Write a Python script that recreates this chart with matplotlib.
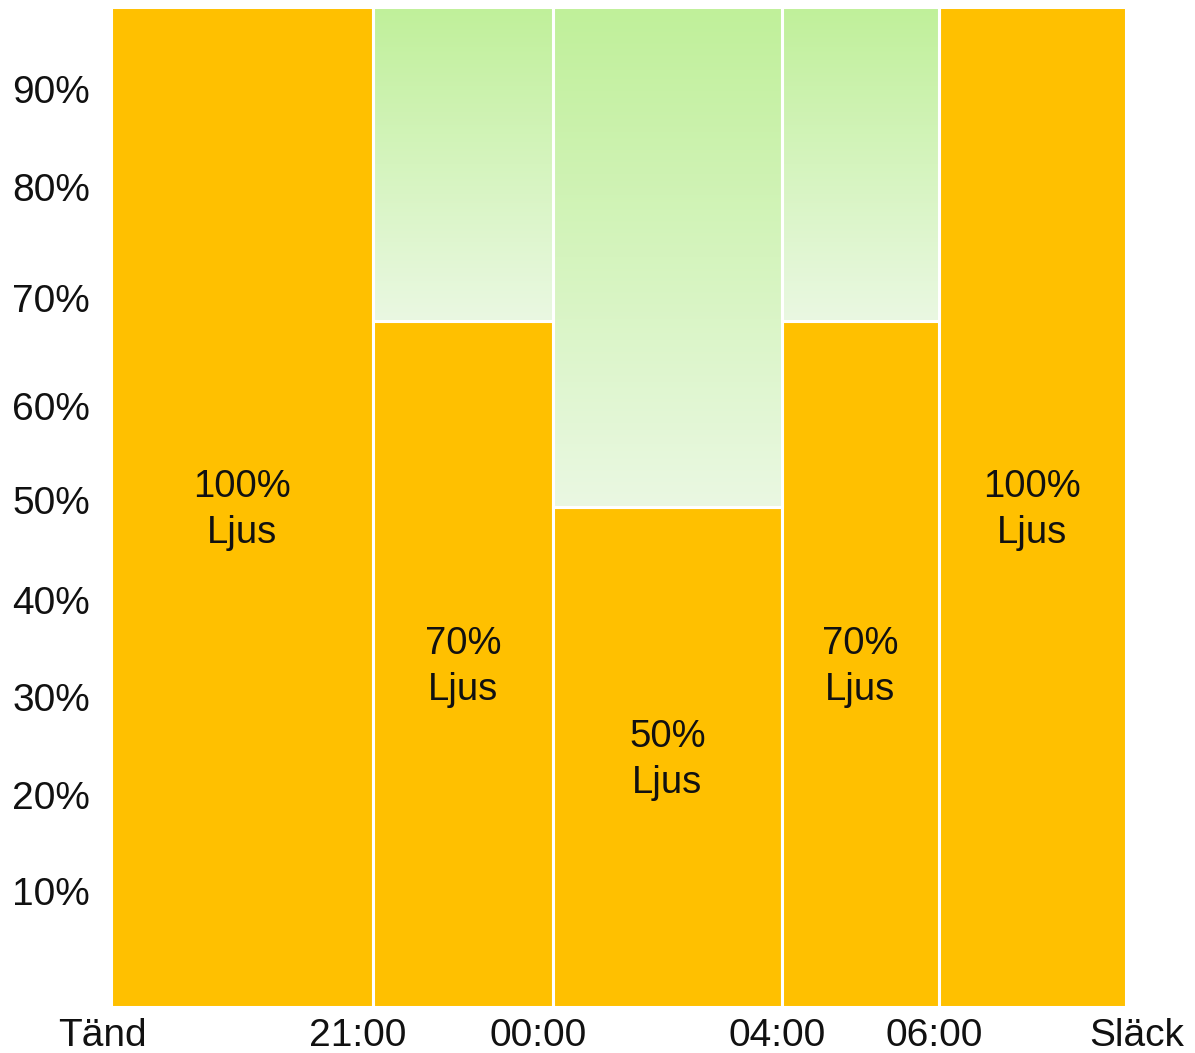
import matplotlib
matplotlib.use("Agg")
import matplotlib.pyplot as plt
import numpy as np
from matplotlib.colors import LinearSegmentedColormap
from matplotlib.patches import Rectangle
from matplotlib.transforms import blended_transform_factory, offset_copy

plt.rcParams['font.family'] = ['Liberation Sans', 'DejaVu Sans']

# ---- data ----
seg_widths = [262, 180, 229, 157, 187]          # relative duration of each period
light_levels = [100, 68.6, 50, 68.6, 100]       # bar heights (%)
bar_labels = ["100%\nLjus", "70%\nLjus", "50%\nLjus", "70%\nLjus", "100%\nLjus"]
time_labels = ["Tänd", "21:00", "00:00", "04:00", "06:00", "Släck"]
time_label_pos = [-9, 246.5, 427, 666, 823.5, 1026]
ytick_labels = ["10%", "20%", "30%", "40%", "50%", "60%", "70%", "80%", "90%"]
ytick_pos = [11.6, 21.2, 31.0, 40.7, 50.7, 60.1, 70.9, 82.0, 91.8]

ORANGE = "#FFC000"
GREEN_TOP = "#C0F09A"
GREEN_BOT = "#EAF8E2"

W, H = 1195, 1053
fig = plt.figure(figsize=(W / 100, H / 100), dpi=100)
ax = fig.add_axes([111 / W, (H - 1007) / H, (1126 - 111) / W, (1007 - 7) / H])

edges = np.concatenate([[0], np.cumsum(seg_widths)])
total = edges[-1]

cmap = LinearSegmentedColormap.from_list("g", [GREEN_BOT, GREEN_TOP])
grad = np.linspace(0, 1, 256).reshape(-1, 1)

txt_trans = offset_copy(ax.transData, fig=fig, x=0, y=-3, units='dots')

for i, (w, h) in enumerate(zip(seg_widths, light_levels)):
    x0 = edges[i]
    ax.bar(x0, h, width=w, align='edge', color=ORANGE, edgecolor='white',
           linewidth=2.2, zorder=2)
    if h < 100:
        ax.imshow(grad, cmap=cmap, origin='lower', aspect='auto',
                  extent=[x0, x0 + w, h, 100], zorder=1, interpolation='bilinear')
        ax.add_patch(Rectangle((x0, h), w, 100 - h, facecolor='none',
                               edgecolor='white', linewidth=2.2, zorder=3))
    ax.text(x0 + w / 2, h / 2, bar_labels[i], ha='center', va='center',
            fontsize=27.5, color='#111111', linespacing=1.38, zorder=4,
            transform=txt_trans)

ax.set_xlim(0, total)
ax.set_ylim(0, 100)

ax.set_yticks(ytick_pos)
ax.set_yticklabels(ytick_labels, fontsize=28, color='#111111')
ax.tick_params(axis='y', length=0, pad=15)
ax.set_xticks([])

trans = blended_transform_factory(ax.transData, ax.transAxes)
for pos, lab in zip(time_label_pos, time_labels):
    ax.text(pos, -0.0395, lab, transform=trans, ha='center', va='baseline',
            fontsize=28, color='#111111', clip_on=False)

for s in ax.spines.values():
    s.set_visible(False)

fig.savefig("out.png", dpi=100, facecolor='white')
